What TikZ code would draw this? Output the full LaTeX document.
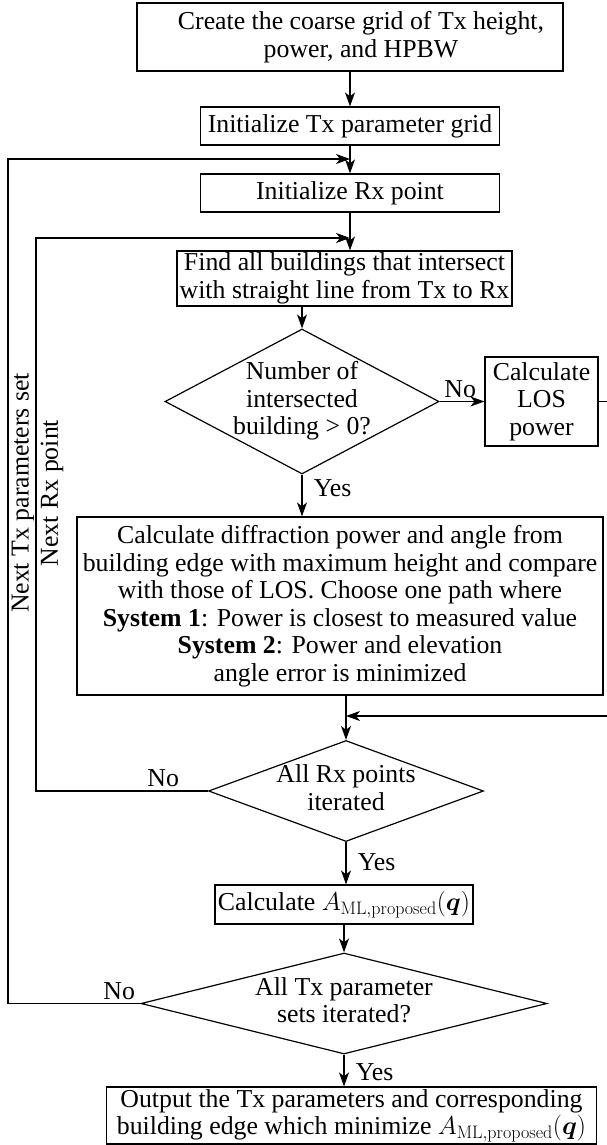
\RequirePackage{fix-cm}
\documentclass[tikz,border=0pt]{standalone}
\usepackage{amsmath,bm}
\usepackage[no-math]{fontspec}
\setmainfont{Liberation Serif}
\usetikzlibrary{shapes.geometric,arrows.meta,positioning}
\newcommand{\dtext}[1]{\makebox[0pt]{\begin{tabular}{@{}c@{}}#1\end{tabular}}}
\newcommand{\Aml}{$A_{\mathrm{ML,proposed}}(\bm{q})$}

\begin{document}
\begin{tikzpicture}[x=1pt,y=-1pt,line width=1.2pt,node distance=89pt,
  every node/.style={font=\fontsize{25.8pt}{27.5pt}\selectfont}]
\tikzstyle{box} = [draw, rectangle, inner sep=0pt, align=center]
\tikzstyle{decision} = [draw, diamond, inner sep=0pt]
\tikzstyle{arr} = [-{Stealth[length=14pt,width=10pt,inset=4pt]}]
%
\useasboundingbox (0,0) rectangle (607,1145);
\clip (0,0) rectangle (607,1145);
%
\node[box,minimum width=426pt,minimum height=68pt] (11) at (350,37) {\hspace*{22pt}Create the coarse grid of Tx height,\\\hspace*{22pt}power, and HPBW};
\node[box,node distance=89pt,below of=11,minimum width=299pt,minimum height=38pt] (21) {Initialize Tx parameter grid};
\node[box,node distance=67pt,below of=21,minimum width=299pt,minimum height=38pt] (31) {Initialize Rx point};
\node[box,node distance=85.5pt,below of=31,xshift=-5.5pt,minimum width=335pt,minimum height=55pt] (41) {Find all buildings that intersect\\with straight line from Tx to Rx};
\node[decision,node distance=123pt,below of=41,xshift=-42.5pt,minimum width=274pt,minimum height=145pt] (51) {\dtext{Number of\\intersected\\building > 0?}};
\node[box,node distance=239.5pt,right of=51,minimum width=113pt,minimum height=89pt] (52) {Calculate\\LOS\\power};
\node[box,node distance=204.5pt,below of=51,xshift=38pt,minimum width=526pt,minimum height=178pt] (61) {Calculate diffraction power and angle from\\building edge with maximum height and compare\\with those of LOS. Choose one path where\\\textbf{System 1}: Power is closest to measured value\\\textbf{System 2}: Power and elevation\\angle error is minimized};
\node[decision,node distance=185pt,below of=61,xshift=6pt,minimum width=275pt,minimum height=101pt] (71) {\dtext{All Rx points\\iterated}};
\node[box,node distance=113.5pt,below of=71,xshift=-2pt,minimum width=258pt,minimum height=39pt] (81) {Calculate \Aml};
\node[decision,node distance=99pt,below of=81,minimum width=406pt,minimum height=101pt] (91) {\dtext{All Tx parameter\\sets iterated?}};
\node[box,node distance=112pt,below of=91,xshift=7.5pt,minimum width=490pt,minimum height=57pt] (101) {Output the Tx parameters and corresponding\\building edge which minimize \Aml};
%
\node[rotate=90] (txlbl) at (23,493) {Next Tx parameters set};
\node[rotate=90] (rxlbl) at (52,493) {Next Rx point};
%
\coordinate (txin) at (350,159);
\coordinate (rxin) at (350,238);
\coordinate (losin) at (71.north |- 0,716);
\coordinate (farright) at (620,0);
%
\draw[arr] (11.south) -- (11.south |- 21.north);
\draw[arr] (21.south) -- (21.south |- 31.north);
\draw[arr] (31.south) -- (31.south |- 41.north);
\draw[arr] (41.south -| 51.north) -- (51.north);
\draw[arr] (51.east) -- node[above,pos=0.46]{No} (52.west);
\draw[arr] (51.south) -- node[right,pos=0.33,xshift=8pt]{Yes} (51.south |- 61.north);
\draw (52.east) -- (52.east -| farright);
\draw[arr] (losin -| farright) -- (losin);
\draw[arr] (61.south -| 71.north) -- (71.north);
\draw[arr] (71.south) -- node[right,pos=0.47,xshift=8pt]{Yes} (71.south |- 81.north);
\draw[arr] (71.west) -- node[above,pos=0.26]{No} (71.west -| 36,0) |- (rxin);
\draw[arr] (81.south) -- (81.south |- 91.north);
\draw[arr] (91.south) -- node[right,pos=0.55,xshift=8pt]{Yes} (91.south |- 101.north);
\draw[arr] (91.west) -- node[above,pos=0.16]{No} (91.west -| 8,0) |- (txin);
\end{tikzpicture}
\end{document}
